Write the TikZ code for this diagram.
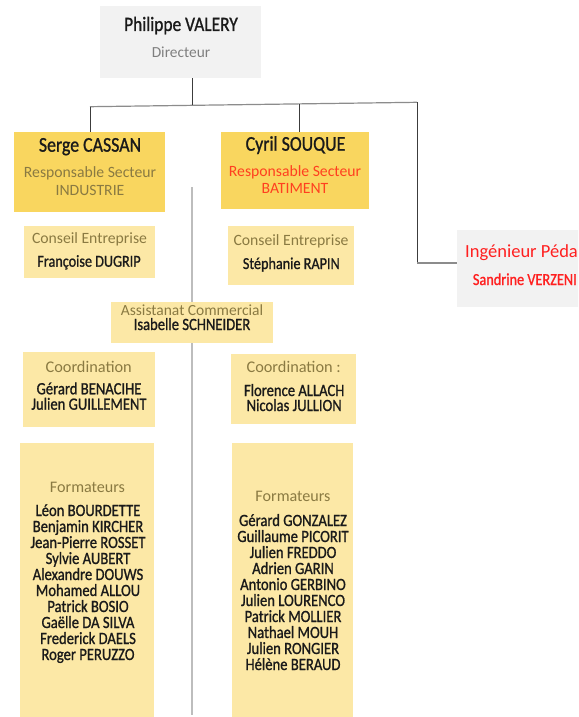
\documentclass[tikz,border=0pt]{standalone}
\usepackage{fontspec}
\setmainfont{Carlito}
\newfontfamily\namefont{Carlito}[FakeStretch=0.85,FakeBold=1]
\usetikzlibrary{positioning}
\definecolor{bossgray}{HTML}{F2F2F2}
\definecolor{headyellow}{HTML}{F9D65F}
\definecolor{lightyellow}{HTML}{FCE8A6}
\definecolor{olivetext}{HTML}{8A7A42}
\definecolor{titlegray}{HTML}{7F7F7F}
\definecolor{batired}{HTML}{FF4020}
\definecolor{pedared}{HTML}{FF2020}
\definecolor{namedark}{HTML}{1A1A1A}
\definecolor{busgray}{HTML}{8C8C8C}
\definecolor{splitgray}{HTML}{BDBDBD}
\tikzset{
  orgbox/.style={anchor=north west, inner sep=0pt, outer sep=0pt},
  bossbox/.style={orgbox, fill=bossgray},
  headbox/.style={orgbox, fill=headyellow},
  teambox/.style={orgbox, fill=lightyellow},
  txt/.style={anchor=base, inner sep=0pt},
  headname/.style={txt, font=\namefont\fontsize{21}{21}\selectfont, text=namedark},
  person/.style={txt, font=\namefont\fontsize{17.2}{17}\selectfont, text=namedark},
  role/.style={txt, font=\fontsize{15.7}{16}\selectfont, text=olivetext},
  link/.style={draw=namedark!85, line width=0.8pt},
  bus/.style={draw=busgray, line width=1.2pt},
}

\begin{document}
\begin{tikzpicture}[x=1pt,y=-1pt]
  %%%%% FRAME %%%%%
  \useasboundingbox (0,0) rectangle (578,717);
  \clip (0,0) rectangle (578,717);
  \fill[white] (0,0) rectangle (578,717);

  % separation line between the two sectors
  \draw[draw=splitgray, line width=1.3pt] (192,187) -- (192,715);

  %%%%% DIRECTION %%%%%
  \node[bossbox, minimum width=161pt, minimum height=72pt] (boss) at (100,6) {};
  \node[headname, font=\namefont\fontsize{20.5}{21}\selectfont] (bossname) at (181,31) {Philippe VALERY};
  \node[txt, font=\fontsize{15.4}{16}\selectfont, text=titlegray] (bossrole) at (181,57) {Directeur};

  %%%%% SECTEURS %%%%%
  \node[headbox, minimum width=151pt, minimum height=80pt] (serge) at (14,132) {};
  \node[headname] (sergename) at (90,151.7) {Serge CASSAN};
  \node[role] (sergerole) at (90,177.7) {Responsable Secteur};
  \node[role] (sergesect) at (90,195.7) {INDUSTRIE};

  \node[headbox, minimum width=148pt, minimum height=77pt] (cyril) at (221,132) {};
  \node[headname] (cyrilname) at (295.5,150.7) {Cyril SOUQUE};
  \node[role, text=batired] (cyrilrole) at (295,176) {Responsable Secteur};
  \node[role, text=batired] (cyrilsect) at (295,193.3) {BATIMENT};

  \node[bossbox, minimum width=140pt, minimum height=77pt] (peda) at (457,230) {};
  \node[txt, anchor=base west, font=\fontsize{18.5}{19}\selectfont, text=pedared] (pedarole) at (465,257.7) {Ingénieur Péda};
  \node[person, anchor=base west, font=\namefont\fontsize{16.8}{17}\selectfont, text=pedared] (pedaname) at (472.7,285) {Sandrine VERZENI};

  %%%%% CONSEIL %%%%%
  \node[teambox, minimum width=131pt, minimum height=52pt] (conseilA) at (24,226) {};
  \node[role] (conseilAtitle) at (89.5,243.3) {Conseil Entreprise};
  \node[person, font=\namefont\fontsize{16.7}{17}\selectfont] (conseilAname) at (89,266.7) {Françoise DUGRIP};

  \node[teambox, minimum width=126pt, minimum height=59pt] (conseilB) at (228,226) {};
  \node[role] (conseilBtitle) at (291,245.7) {Conseil Entreprise};
  \node[person, font=\namefont\fontsize{16.7}{17}\selectfont] (conseilBname) at (291.3,269) {Stéphanie RAPIN};

  %%%%% ASSISTANAT %%%%%
  \node[teambox, minimum width=162pt, minimum height=41pt] (assist) at (111,302) {};
  \node[role, font=\fontsize{15.5}{16}\selectfont] (assisttitle) at (192,315.7) {Assistanat Commercial};
  \node[person] (assistname) at (192,330) {Isabelle SCHNEIDER};

  %%%%% COORDINATION %%%%%
  \node[teambox, minimum width=132pt, minimum height=75pt] (coordA) at (23,352) {};
  \node[role, font=\fontsize{16.3}{17}\selectfont] (coordAtitle) at (88.7,372.3) {Coordination};
  \node[person] (coordA1) at (89,394.3) {Gérard BENACIHE};
  \node[person] (coordA2) at (89,409.7) {Julien GUILLEMENT};

  \node[teambox, minimum width=125pt, minimum height=70pt] (coordB) at (231,354) {};
  \node[role, font=\fontsize{16.3}{17}\selectfont] (coordBtitle) at (293.7,372.3) {Coordination :};
  \node[person] (coordB1) at (294.2,396) {Florence ALLACH};
  \node[person] (coordB2) at (294.2,411) {Nicolas JULLION};

  %%%%% FORMATEURS %%%%%
  \node[teambox, minimum width=134pt, minimum height=280pt] (formA) at (20,443) {};
  \node[role, font=\fontsize{16.1}{17}\selectfont] (formAtitle) at (87.5,492.3) {Formateurs};
  \foreach \who [count=\i from 0] in {Léon BOURDETTE, Benjamin KIRCHER, Jean-Pierre ROSSET,
      Sylvie AUBERT, Alexandre DOUWS, Mohamed ALLOU, Patrick BOSIO, Gaëlle DA SILVA,
      Frederick DAELS, Roger PERUZZO}
    \node[person] (formA\i) at (88,{516+16*\i}) {\who};

  \node[teambox, minimum width=121pt, minimum height=280pt] (formB) at (232,443) {};
  \node[role, font=\fontsize{16.1}{17}\selectfont] (formBtitle) at (293,501.7) {Formateurs};
  \foreach \who [count=\i from 0] in {Gérard GONZALEZ, Guillaume PICORIT, Julien FREDDO,
      Adrien GARIN, Antonio GERBINO, Julien LOURENCO, Patrick MOLLIER, Nathael MOUH,
      Julien RONGIER, Hélène BERAUD}
    \node[person] (formB\i) at (293,{526+16*\i}) {\who};

  %%%%% LIENS %%%%%
  \coordinate (busW) at (90,106.7);
  \coordinate (busM) at (192,105.3);
  \coordinate (busC) at (299,104);
  \coordinate (busE) at (417,102.3);
  \coordinate (pedaIn) at ([yshift=5.5pt]peda.west);
  \draw[bus] (busW) -- (busE);
  \draw[link] (boss.south -| busM) -- (busM);
  \draw[link] (busW) -- (busW |- serge.north);
  \draw[link] (busC) -- (busC |- cyril.north);
  \draw[link] (busE) -- (busE |- pedaIn);
  \draw[bus] (busE |- pedaIn) -- (pedaIn);
\end{tikzpicture}
\end{document}
